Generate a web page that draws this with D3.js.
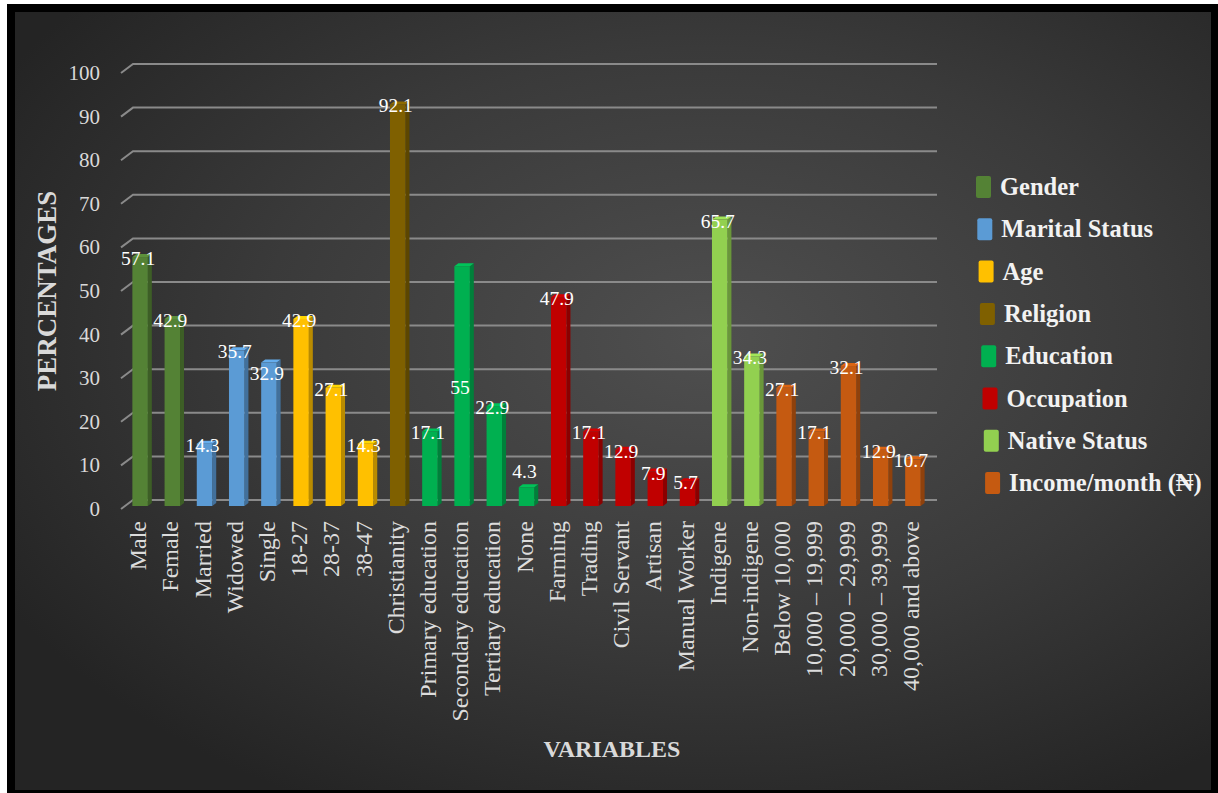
<!DOCTYPE html>
<html>
<head>
<meta charset="utf-8">
<script src="https://cdn.jsdelivr.net/npm/d3@7"></script>
<style>
  html, body { margin: 0; padding: 0; background: #ffffff; }
  svg { display: block; }
</style>
</head>
<body>
<svg id="chart" width="1218" height="793"></svg>
<script>
// Respondent characteristics (percent)
const categories = [
  "Male", "Female",
  "Married", "Widowed", "Single",
  "18-27", "28-37", "38-47",
  "Christianity",
  "Primary education", "Secondary education", "Tertiary education", "None",
  "Farming", "Trading", "Civil Servant", "Artisan", "Manual Worker",
  "Indigene", "Non-indigene",
  "Below 10,000", "10,000 – 19,999", "20,000 – 29,999", "30,000 – 39,999", "40,000 and above"
];
const values = [
  57.1, 42.9,
  14.3, 35.7, 32.9,
  42.9, 27.1, 14.3,
  92.1,
  17.1, 55, 22.9, 4.3,
  47.9, 17.1, 12.9, 7.9, 5.7,
  65.7, 34.3,
  27.1, 17.1, 32.1, 12.9, 10.7
];
const groupOf = [
  "Gender", "Gender",
  "Marital Status", "Marital Status", "Marital Status",
  "Age", "Age", "Age",
  "Religion",
  "Education", "Education", "Education", "Education",
  "Occupation", "Occupation", "Occupation", "Occupation", "Occupation",
  "Native Status", "Native Status",
  "Income/month (₦)", "Income/month (₦)", "Income/month (₦)", "Income/month (₦)", "Income/month (₦)"
];
const groupNames = ["Gender", "Marital Status", "Age", "Religion", "Education", "Occupation", "Native Status", "Income/month (₦)"];
const groupColors = ["#548235", "#5b9bd5", "#ffc000", "#7f6000", "#00b050", "#c00000", "#92d050", "#c55a11"];
const yTicks = [0, 10, 20, 30, 40, 50, 60, 70, 80, 90, 100];

(function () {
  const svg = d3.select("#chart");
  const W = 1218, H = 793;
  const serif = "'Liberation Serif', 'Times New Roman', 'DejaVu Serif', serif";

  // Frame and dark radial backdrop
  const defs = svg.append("defs");
  const bg = defs.append("radialGradient").attr("id", "bg")
    .attr("cx", "58%").attr("cy", "42%").attr("r", "68%");
  bg.append("stop").attr("offset", "0%").attr("stop-color", "#4f4f4f");
  bg.append("stop").attr("offset", "55%").attr("stop-color", "#3a3a3a");
  bg.append("stop").attr("offset", "100%").attr("stop-color", "#242424");

  svg.append("rect").attr("x", 7).attr("y", 4).attr("width", W - 7).attr("height", H - 4).attr("fill", "#000");
  svg.append("rect").attr("x", 15).attr("y", 12).attr("width", 1196).attr("height", 778).attr("fill", "url(#bg)");

  const color = d3.scaleOrdinal().domain(groupNames).range(groupColors);

  // Back wall value scale, and depth offsets for the pseudo-3D look
  const y = d3.scaleLinear().domain([0, 100]).range([500, 64]);
  const x = d3.scaleBand().domain(categories).range([126, 931]).padding(0);
  const wallX0 = 133, wallX1 = 937;
  const slantDx = 12, slantDy = 9;
  const barDy = 6;          // bars stand slightly in front of the back wall
  const sideW = 4, sideH = 3;

  // Gridlines with slanted floor/wall edge
  const grid = svg.append("g");
  yTicks.forEach(t => {
    const yy = y(t);
    grid.append("path")
      .attr("d", `M${wallX0 - slantDx},${yy + slantDy}L${wallX0},${yy}L${wallX1},${yy}`)
      .attr("fill", "none").attr("stroke", "#8a8a8a").attr("stroke-width", 2);
  });

  // Y tick labels
  svg.append("g").selectAll("text").data(yTicks).join("text")
    .attr("x", 100).attr("y", d => y(d) + slantDy + 7)
    .attr("text-anchor", "end")
    .attr("font-family", serif).attr("font-size", 21)
    .attr("fill", "#d9d9d9")
    .text(d => d);

  // Columns
  const data = categories.map((c, i) => ({ cat: c, v: values[i], g: groupOf[i] }));
  const frontW = x.bandwidth() * 0.48;
  const bars = svg.append("g").selectAll("g").data(data).join("g");
  const fx = d => x(d.cat) + x.bandwidth() / 2 - frontW / 2 - 2;
  const barTop = d => y(d.v) + barDy;
  const base = y(0) + barDy;

  bars.append("path") // side face
    .attr("d", d => {
      const x1 = fx(d) + frontW;
      return `M${x1},${barTop(d)}L${x1 + sideW},${barTop(d) - sideH}L${x1 + sideW},${base - sideH}L${x1},${base}Z`;
    })
    .attr("fill", d => d3.color(color(d.g)).darker(0.9));
  bars.append("path") // top face
    .attr("d", d => {
      const x0 = fx(d), x1 = x0 + frontW, t = barTop(d);
      return `M${x0},${t}L${x1},${t}L${x1 + sideW},${t - sideH}L${x0 + sideW},${t - sideH}Z`;
    })
    .attr("fill", d => d3.color(color(d.g)).brighter(0.3));
  bars.append("rect") // front face
    .attr("x", d => fx(d)).attr("y", d => barTop(d))
    .attr("width", frontW).attr("height", d => base - barTop(d))
    .attr("fill", d => color(d.g));

  // Value labels
  const labelNudge = { "Secondary education": 120, "None": -17, "Single": 9 };
  svg.append("g").selectAll("text").data(data).join("text")
    .attr("x", d => x(d.cat) + x.bandwidth() / 2 - 4)
    .attr("y", d => barTop(d) + 8 + (labelNudge[d.cat] || 0))
    .attr("text-anchor", "middle")
    .attr("font-family", serif).attr("font-size", 19.5)
    .attr("fill", "#ffffff")
    .text(d => d.v);

  // Category labels (rotated)
  svg.append("g").selectAll("text").data(categories).join("text")
    .attr("transform", d => `translate(${x(d) + x.bandwidth() / 2 + 4},521) rotate(-90)`)
    .attr("text-anchor", "end")
    .attr("font-family", serif).attr("font-size", 24)
    .attr("fill", "#dcdcdc")
    .text(d => d);

  // Axis titles
  svg.append("text")
    .attr("transform", "translate(56,291) rotate(-90)")
    .attr("text-anchor", "middle")
    .attr("font-family", serif).attr("font-size", 27).attr("font-weight", "bold")
    .attr("fill", "#d9d9d9")
    .text("PERCENTAGES");
  svg.append("text")
    .attr("x", 612).attr("y", 757)
    .attr("text-anchor", "middle")
    .attr("font-family", serif).attr("font-size", 24).attr("font-weight", "bold")
    .attr("fill", "#d9d9d9")
    .text("VARIABLES");

  // Legend
  const legend = svg.append("g").selectAll("g").data(groupNames).join("g")
    .attr("transform", (d, i) => `translate(${976 + i * 1.3},${187 + i * 42.3})`);
  legend.append("rect")
    .attr("x", 0).attr("y", -11).attr("width", 15).attr("height", 22).attr("rx", 2)
    .attr("fill", d => color(d));
  legend.append("text")
    .attr("x", 24).attr("y", 8)
    .attr("font-family", serif).attr("font-size", 24.5).attr("font-weight", "bold")
    .attr("fill", "#f2f2f2")
    .text(d => d);
})();
</script>
</body>
</html>
